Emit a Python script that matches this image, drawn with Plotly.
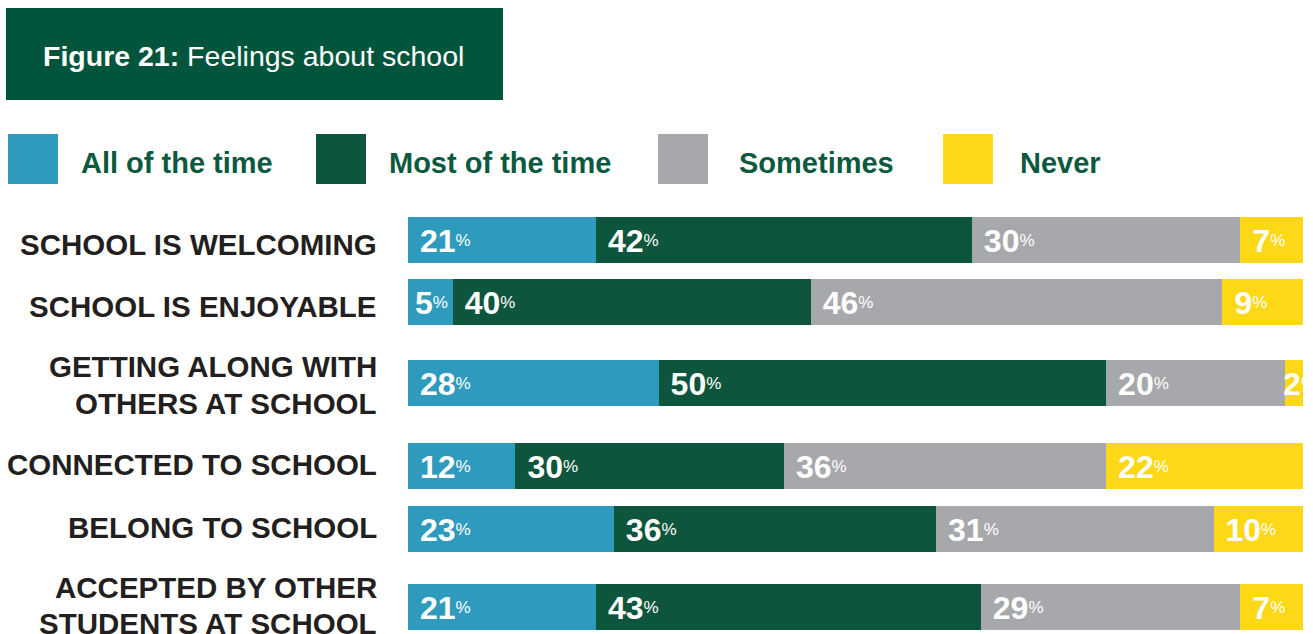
import plotly.graph_objects as go

# ---- data ----
categories = [
    "SCHOOL IS WELCOMING",
    "SCHOOL IS ENJOYABLE",
    "GETTING ALONG WITH<br>OTHERS AT SCHOOL",
    "CONNECTED TO SCHOOL",
    "BELONG TO SCHOOL",
    "ACCEPTED BY OTHER<br>STUDENTS AT SCHOOL",
]
series_names = ["All of the time", "Most of the time", "Sometimes", "Never"]
all_of_the_time = [21, 5, 28, 12, 23, 21]
most_of_the_time = [42, 40, 50, 30, 36, 43]
sometimes = [30, 46, 20, 36, 31, 29]
never = [7, 9, 2, 22, 10, 7]
series_values = [all_of_the_time, most_of_the_time, sometimes, never]

# ---- styling / layout constants ----
W, H = 1313, 634
COLORS = ["#2E9BBE", "#0D553D", "#A7A8AB", "#FDD817"]
TITLE_BG = "#02553D"
LEGEND_TEXT = "#0B5A3F"
LABEL_TEXT = "#231F20"
FONT = "Liberation Sans, Arial, Helvetica, sans-serif"

PLOT_X0, PLOT_X1 = 408, 1303            # pixel span of the 0-100% axis
ROW_Y = [240, 302, 383, 466, 529, 607]  # bar centres (pixels from top)
LABEL_Y = [244, 306, 385, 464, 527, 605]  # category label centres
LABEL_LINE_GAP = 36
LABEL_RIGHT = 379
BAR_H = 46

NUM_SIZE = 32                           # value digits
PCT_SIZE = 17                           # raised percent sign
DIGIT_ADV = 0.556 * NUM_SIZE            # advance width of one bold digit, px
NUM_DY = 4                              # digits sit slightly below bar centre
PCT_DY = 2                              # percent sign is raised relative to digits

LEGEND_SQ_X = [8, 316, 658, 943]
LEGEND_TXT_X = [79, 387, 737, 1018]
LEGEND_Y0, LEGEND_Y1 = 134, 184


def px(x):
    return x / W


def py(y):
    return 1 - y / H


def label_pad(v):
    """Gap (px) between a segment's left edge and its value label."""
    if v <= 2:
        return -2
    if v <= 5:
        return 7
    return 12


fig = go.Figure()

units_per_px = 100 / (PLOT_X1 - PLOT_X0)

# stacked segments
for name, vals, col in zip(series_names, series_values, COLORS):
    fig.add_trace(go.Bar(
        y=ROW_Y, x=vals, orientation="h", name=name,
        marker=dict(color=col, line=dict(width=0)),
        width=BAR_H, hoverinfo="skip", showlegend=False,
    ))

# value labels at the left end of each segment: digits, then a small raised "%"
starts = [0] * len(categories)
for vals in series_values:
    num_x = [s + label_pad(v) * units_per_px for s, v in zip(starts, vals)]
    fig.add_trace(go.Scatter(
        x=num_x, y=[y + NUM_DY for y in ROW_Y], mode="text",
        text=[f"<b>{v}</b>" for v in vals],
        textposition="middle right",
        textfont=dict(family=FONT, size=NUM_SIZE, color="white"),
        cliponaxis=True, hoverinfo="skip", showlegend=False,
    ))
    fig.add_trace(go.Scatter(
        x=[x + len(str(v)) * DIGIT_ADV * units_per_px for x, v in zip(num_x, vals)],
        y=[y + PCT_DY for y in ROW_Y], mode="text",
        text=["%"] * len(vals),
        textposition="middle right",
        textfont=dict(family=FONT, size=PCT_SIZE, color="white"),
        cliponaxis=True, hoverinfo="skip", showlegend=False,
    ))
    starts = [s + v for s, v in zip(starts, vals)]

shapes = []
annotations = []

# title box
shapes.append(dict(type="rect", xref="paper", yref="paper",
                   x0=px(6), x1=px(503), y0=py(100), y1=py(8),
                   fillcolor=TITLE_BG, line=dict(width=0), layer="below"))
annotations.append(dict(xref="paper", yref="paper", x=px(41), y=py(56),
                        xanchor="left", yanchor="middle", showarrow=False,
                        text="<b>Figure 21:</b> Feelings about school",
                        font=dict(family=FONT, size=28.5, color="white")))

# legend
for name, col, sx, tx in zip(series_names, COLORS, LEGEND_SQ_X, LEGEND_TXT_X):
    shapes.append(dict(type="rect", xref="paper", yref="paper",
                       x0=px(sx), x1=px(sx + 50), y0=py(LEGEND_Y1), y1=py(LEGEND_Y0),
                       fillcolor=col, line=dict(width=0)))
    annotations.append(dict(xref="paper", yref="paper", x=px(tx), y=py(163),
                            xanchor="left", yanchor="middle", showarrow=False,
                            text=f"<b>{name}</b>",
                            font=dict(family=FONT, size=29, color=LEGEND_TEXT)))

# category labels, one annotation per line for tight line spacing
for cat, yc in zip(categories, LABEL_Y):
    lines = cat.split("<br>")
    first = yc - LABEL_LINE_GAP * (len(lines) - 1) / 2
    for i, line in enumerate(lines):
        annotations.append(dict(xref="paper", yref="paper", x=px(LABEL_RIGHT),
                                y=py(first + i * LABEL_LINE_GAP),
                                xanchor="right", yanchor="middle", align="right",
                                showarrow=False, text=f"<b>{line}</b>",
                                font=dict(family=FONT, size=29.5, color=LABEL_TEXT)))

fig.update_layout(
    width=W, height=H,
    margin=dict(l=0, r=0, t=0, b=0),
    paper_bgcolor="white", plot_bgcolor="white",
    barmode="stack", bargap=0,
    xaxis=dict(domain=[px(PLOT_X0), px(PLOT_X1)], range=[0, 100],
               visible=False, fixedrange=True),
    yaxis=dict(domain=[0, 1], range=[H, 0], visible=False, fixedrange=True),
    shapes=shapes, annotations=annotations,
    showlegend=False,
)

fig.write_html("out.html", config={"displayModeBar": False})
